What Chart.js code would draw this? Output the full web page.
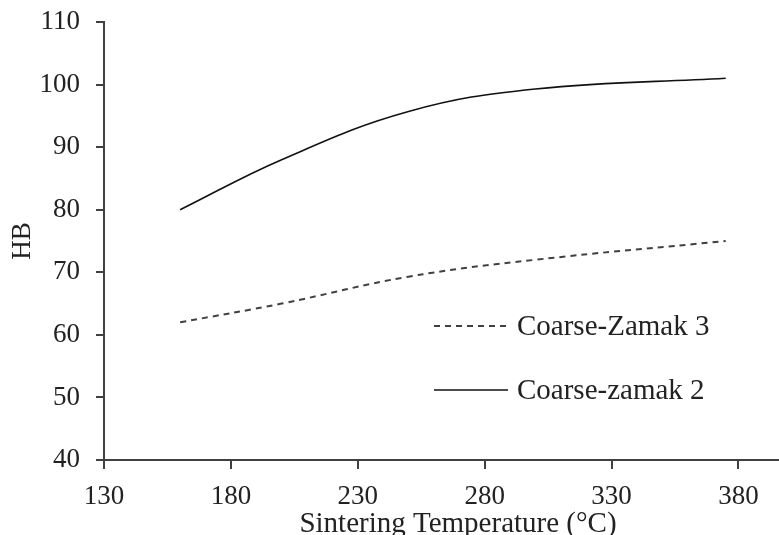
<!DOCTYPE html>
<html>
<head>
<meta charset="utf-8">
<script src="https://cdn.jsdelivr.net/npm/chart.js@4/dist/chart.umd.min.js"></script>
<style>
  html, body { margin: 0; padding: 0; background: #fff; overflow: hidden; }
  #wrap { position: relative; width: 812px; height: 535px; }
</style>
</head>
<body>
<div id="wrap"><canvas id="chart" width="812" height="535"></canvas></div>
<script>
const temps = [160, 200, 250, 300, 375];
const zamak3 = [62, 65, 69.3, 72, 75];
const zamak2 = [80, 88, 95.7, 99.3, 101];
const xTicks = [130, 180, 230, 280, 330, 380];

const serif = '"Liberation Serif", "Times New Roman", serif';
const axisColor = '#404040';

// legend drawn inside the plot, like the original
const legendInside = {
  id: 'legendInside',
  afterDatasetsDraw(chart) {
    const ctx = chart.ctx;
    const rows = [
      { ds: chart.data.datasets[0], y: 326 },
      { ds: chart.data.datasets[1], y: 390 },
    ];
    ctx.save();
    rows.forEach(r => {
      ctx.strokeStyle = r.ds.borderColor;
      ctx.lineWidth = r.ds.borderWidth;
      ctx.setLineDash(r.ds.borderDash || []);
      ctx.beginPath();
      ctx.moveTo(434, r.y);
      ctx.lineTo(508, r.y);
      ctx.stroke();
      ctx.setLineDash([]);
      ctx.fillStyle = '#222';
      ctx.font = '29px ' + serif;
      ctx.textBaseline = 'middle';
      ctx.fillText(r.ds.label, 517, r.y + 1);
    });
    ctx.restore();
  }
};

new Chart(document.getElementById('chart'), {
  type: 'line',
  data: {
    labels: temps,
    datasets: [
      {
        label: 'Coarse-Zamak 3',
        data: temps.map((t, i) => ({ x: t, y: zamak3[i] })),
        borderColor: '#404040',
        borderWidth: 2,
        borderDash: [6, 5],
        pointRadius: 0,
        tension: 0.4,
        fill: false,
      },
      {
        label: 'Coarse-zamak 2',
        data: temps.map((t, i) => ({ x: t, y: zamak2[i] })),
        borderColor: '#111111',
        borderWidth: 1.6,
        pointRadius: 0,
        tension: 0.4,
        fill: false,
      },
    ],
  },
  options: {
    responsive: false,
    animation: false,
    maintainAspectRatio: false,
    devicePixelRatio: 1,
    layout: { padding: { top: 22, right: 0, left: 0, bottom: 0 } },
    scales: {
      x: {
        type: 'linear',
        min: 130,
        max: 409,
        afterBuildTicks: s => { s.ticks = xTicks.map(v => ({ value: v })); },
        afterFit: s => { s.height = 75; s.paddingLeft = 0; s.paddingRight = 0; },
        border: { display: true, color: axisColor, width: 2 },
        grid: { display: true, drawOnChartArea: false, drawTicks: true, tickLength: 9, color: axisColor, lineWidth: 2 },
        ticks: { color: '#222', font: { family: serif, size: 27 }, padding: 12, maxRotation: 0 },
        title: { display: true, text: 'Sintering Temperature (°C)', color: '#222', font: { family: serif, size: 29, lineHeight: 0.75 }, padding: { top: 0, bottom: 0 } },
      },
      y: {
        min: 40,
        max: 110,
        afterFit: s => { s.width = 104; s.paddingTop = 0; s.paddingBottom = 0; },
        border: { display: true, color: axisColor, width: 2 },
        grid: { display: true, drawOnChartArea: false, drawTicks: true, tickLength: 8, color: axisColor, lineWidth: 2 },
        ticks: { stepSize: 10, color: '#222', font: { family: serif, size: 27 }, padding: 16 },
        title: { display: true, text: 'HB', color: '#222', font: { family: serif, size: 27 }, padding: { top: 7, bottom: 0 } },
      },
    },
    plugins: {
      legend: { display: false },
      tooltip: { enabled: false },
    },
  },
  plugins: [legendInside],
});
</script>
</body>
</html>
